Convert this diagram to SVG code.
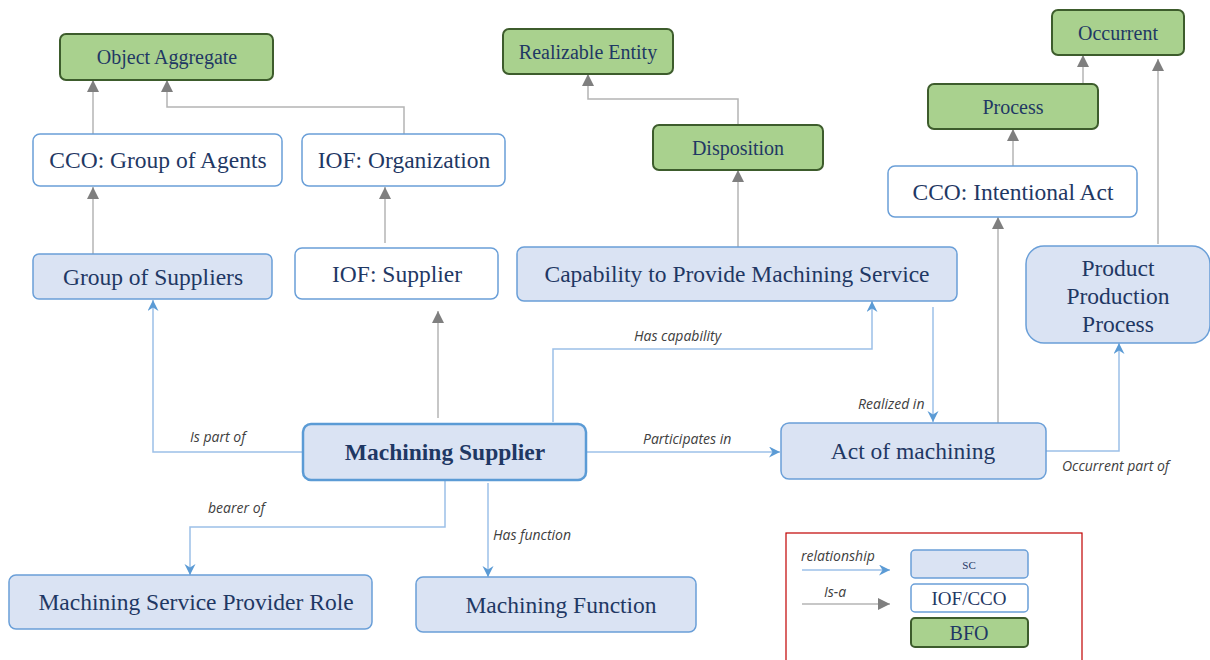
<svg xmlns="http://www.w3.org/2000/svg" width="1210" height="660" viewBox="0 0 1210 660">
<style>
.sc{fill:#dae3f3;stroke:#6a9fd8;stroke-width:1.5}
.io{fill:#ffffff;stroke:#6a9fd8;stroke-width:1.5}
.bf{fill:#a9d18e;stroke:#3d5c2c;stroke-width:2}
.t{font-family:"Liberation Serif",serif;fill:#1f3864;text-anchor:middle;font-size:23.5px}
.tg{font-family:"Liberation Serif",serif;fill:#1f3864;text-anchor:middle;font-size:20px}
.lb{font-family:"Open Sans","DejaVu Sans",sans-serif;font-style:italic;fill:#404040;font-size:14px}
.isa{fill:none;stroke:#b4b4b4;stroke-width:1.5}
.rel{fill:none;stroke:#9cc0e8;stroke-width:1.5}
</style>
<defs>
<marker id="ga" markerUnits="userSpaceOnUse" markerWidth="14" markerHeight="14" refX="12" refY="6" orient="auto">
<path d="M0,0 L12,6 L0,12 z" fill="#7f7f7f"/>
</marker>
<marker id="ba" markerUnits="userSpaceOnUse" markerWidth="14" markerHeight="14" refX="11" refY="5.5" orient="auto">
<path d="M0,0 L11,5.5 L0,11 L3.5,5.5 z" fill="#5b9bd5"/>
</marker>
</defs>
<rect width="1210" height="660" fill="#ffffff"/>
<g id="connectors">
<path class="isa" marker-end="url(#ga)" d="M93,134 V80"/>
<path class="isa" marker-end="url(#ga)" d="M404,134 V107 H167 V80"/>
<path class="isa" marker-end="url(#ga)" d="M93,254 V187"/>
<path class="isa" marker-end="url(#ga)" d="M385,243 V187"/>
<path class="isa" marker-end="url(#ga)" d="M438,418 V311"/>
<path class="isa" marker-end="url(#ga)" d="M738,125 V99 H588 V74"/>
<path class="isa" marker-end="url(#ga)" d="M738,247 V170"/>
<path class="isa" marker-end="url(#ga)" d="M1013,166 V129"/>
<path class="isa" marker-end="url(#ga)" d="M1083,84 V55"/>
<path class="isa" marker-end="url(#ga)" d="M998,423 V217"/>
<path class="isa" marker-end="url(#ga)" d="M1158,244 V59"/>
<path class="rel" marker-end="url(#ba)" d="M303,452 H153 V300"/>
<path class="rel" marker-end="url(#ba)" d="M586,452 H780"/>
<path class="rel" marker-end="url(#ba)" d="M553,422 V349 H872 V301"/>
<path class="rel" marker-end="url(#ba)" d="M933,307 V422"/>
<path class="rel" marker-end="url(#ba)" d="M1046,451 H1119 V343"/>
<path class="rel" marker-end="url(#ba)" d="M445,481 V527 H190 V575"/>
<path class="rel" marker-end="url(#ba)" d="M488,483 V577"/>
<text class="lb" x="190" y="442">Is part of</text>
<text class="lb" x="643" y="444">Participates in</text>
<text class="lb" x="634" y="341">Has capability</text>
<text class="lb" x="858" y="409">Realized in</text>
<text class="lb" x="1062" y="471">Occurrent part of</text>
<text class="lb" x="208" y="513">bearer of</text>
<text class="lb" x="493" y="540">Has function</text>
</g>
<g id="object-aggregate"><rect class="bf" x="60" y="34" width="213" height="46" rx="6"/><text class="tg" x="167" y="64">Object Aggregate</text></g>
<g id="cco-group-of-agents"><rect class="io" x="33" y="134" width="249" height="52" rx="7"/><text class="t" x="158" y="168">CCO: Group of Agents</text></g>
<g id="iof-organization"><rect class="io" x="302" y="134" width="203" height="52" rx="7"/><text class="t" x="404" y="168">IOF: Organization</text></g>
<g id="group-of-suppliers"><rect class="sc" x="33" y="254" width="239" height="45" rx="6"/><text class="t" x="153" y="285">Group of Suppliers</text></g>
<g id="iof-supplier"><rect class="io" x="295" y="248" width="203" height="51" rx="7"/><text class="t" x="397" y="282">IOF: Supplier</text></g>
<g id="realizable-entity"><rect class="bf" x="503" y="29" width="170" height="45" rx="6"/><text class="tg" x="588" y="59">Realizable Entity</text></g>
<g id="disposition"><rect class="bf" x="653" y="125" width="170" height="45" rx="6"/><text class="tg" x="738" y="155">Disposition</text></g>
<g id="capability"><rect class="sc" x="517" y="247" width="440" height="54" rx="7"/><text class="t" x="737" y="282">Capability to Provide Machining Service</text></g>
<g id="process"><rect class="bf" x="928" y="84" width="170" height="45" rx="6"/><text class="tg" x="1013" y="114">Process</text></g>
<g id="occurrent"><rect class="bf" x="1052" y="10" width="132" height="45" rx="6"/><text class="tg" x="1118" y="40">Occurrent</text></g>
<g id="cco-intentional-act"><rect class="io" x="888" y="166" width="249" height="51" rx="7"/><text class="t" x="1013" y="200">CCO: Intentional Act</text></g>
<g id="product-production-process"><rect class="sc" x="1026" y="246" width="184" height="97" rx="18"/><text class="t" x="1118" y="276">Product</text><text class="t" x="1118" y="304">Production</text><text class="t" x="1118" y="332">Process</text></g>
<g id="machining-supplier"><rect class="sc" x="303" y="424" width="283" height="56" rx="8" style="stroke:#5b9bd5;stroke-width:2.5"/><text class="t" x="445" y="460" font-weight="bold">Machining Supplier</text></g>
<g id="act-of-machining"><rect class="sc" x="781" y="423" width="265" height="56" rx="8"/><text class="t" x="913" y="459">Act of machining</text></g>
<g id="machining-service-provider-role"><rect class="sc" x="9" y="575" width="363" height="54" rx="7"/><text class="t" x="196" y="610">Machining Service Provider Role</text></g>
<g id="machining-function"><rect class="sc" x="416" y="577" width="280" height="55" rx="7"/><text class="t" x="561" y="613">Machining Function</text></g>
<g id="legend">
<rect x="786" y="533" width="296" height="135" fill="none" stroke="#c00000" stroke-width="1.2"/>
<text class="lb" x="801" y="561">relationship</text>
<path class="rel" marker-end="url(#ba)" d="M802,570 H890"/>
<text class="lb" x="824" y="597">Is-a</text>
<path class="isa" marker-end="url(#ga)" d="M802,604 H890"/>
<rect class="sc" x="911" y="550" width="117" height="28" rx="4"/><text class="t" x="969" y="569" style="font-size:11px">SC</text>
<rect class="io" x="911" y="584" width="117" height="28" rx="4"/><text class="t" x="969" y="605" style="font-size:19px">IOF/CCO</text>
<rect class="bf" x="911" y="618" width="117" height="29" rx="4"/><text class="t" x="969" y="640" style="font-size:20px">BFO</text>
</g>
</svg>
